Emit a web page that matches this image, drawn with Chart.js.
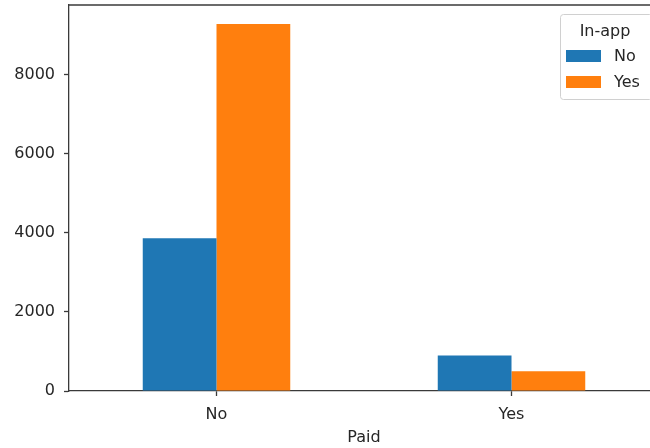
<!DOCTYPE html>
<html>
<head>
<meta charset="utf-8">
<script src="https://cdn.jsdelivr.net/npm/chart.js@4/dist/chart.umd.min.js"></script>
<style>
html, body { margin: 0; padding: 0; background: #fff; overflow: hidden; width: 650px; height: 448px; }
canvas { display: block; }
</style>
</head>
<body>
<canvas id="c" width="670" height="448"></canvas>
<script>
const categories = ['No', 'Yes'];
const seriesNames = ['No', 'Yes'];
const inAppNo = [3860, 895];
const inAppYes = [9280, 500];
const yTicks = [0, 2000, 4000, 6000, 8000];
const yMax = 9760;
const xTitle = 'Paid';
const legendTitle = 'In-app';
const colors = ['#1f77b4', '#ff7f0e'];

const FONT = 'DejaVu Sans';
const TEXT = '#262626';
const SPINE = '#3a3a3a';

const framePlugin = {
  id: 'frame',
  afterDraw(chart) {
    const ctx = chart.ctx, a = chart.chartArea;
    ctx.save();
    ctx.strokeStyle = SPINE;
    ctx.lineWidth = 1.3;
    ctx.beginPath();
    ctx.moveTo(a.left, a.top);
    ctx.lineTo(a.right, a.top);
    ctx.stroke();
    ctx.restore();
  }
};

const legendPlugin = {
  id: 'mplLegend',
  afterDraw(chart) {
    const ctx = chart.ctx;
    const x0 = 560, y0 = 14, w = 92, h = 85;
    ctx.save();
    ctx.fillStyle = 'rgba(255,255,255,0.85)';
    ctx.strokeStyle = '#d0d0d0';
    ctx.lineWidth = 1;
    ctx.beginPath();
    ctx.roundRect(x0 + 0.5, y0 + 0.5, w, h, 3);
    ctx.fill();
    ctx.stroke();
    ctx.font = '16px "' + FONT + '"';
    ctx.fillStyle = TEXT;
    ctx.textAlign = 'center';
    ctx.textBaseline = 'middle';
    ctx.fillText(legendTitle, 605, 32);
    ctx.textAlign = 'left';
    chart.data.datasets.forEach((ds, i) => {
      const cy = 56 + i * 26;
      ctx.fillStyle = ds.backgroundColor;
      ctx.fillRect(566, cy - 6, 35, 12);
      ctx.fillStyle = TEXT;
      ctx.fillText(ds.label, 614, cy + 1);
    });
    ctx.restore();
  }
};

new Chart(document.getElementById('c'), {
  type: 'bar',
  data: {
    labels: categories,
    datasets: [
      { label: seriesNames[0], data: inAppNo, backgroundColor: colors[0], borderWidth: 0 },
      { label: seriesNames[1], data: inAppYes, backgroundColor: colors[1], borderWidth: 0 }
    ]
  },
  options: {
    responsive: false,
    animation: false,
    layout: { padding: { top: 5, right: 11, left: 0, bottom: 0 } },
    datasets: { bar: { categoryPercentage: 0.5, barPercentage: 1.0 } },
    plugins: { legend: { display: false }, tooltip: { enabled: false } },
    scales: {
      x: {
        type: 'category',
        offset: true,
        grid: { display: true, drawOnChartArea: false, drawTicks: true, tickLength: 5, tickColor: SPINE, tickWidth: 1.3, offset: false },
        border: { display: true, color: SPINE, width: 1.3 },
        ticks: { color: TEXT, font: { family: FONT, size: 16 }, padding: 9 },
        title: { display: true, text: xTitle, color: TEXT, font: { family: FONT, size: 16 }, padding: { top: 0, bottom: 1 } },
        afterFit(s) { s.height = 57; s.paddingLeft = 0; s.paddingRight = 0; }
      },
      y: {
        min: 0,
        max: yMax,
        afterBuildTicks(s) { s.ticks = yTicks.map(v => ({ value: v })); },
        grid: { display: true, drawOnChartArea: false, drawTicks: true, tickLength: 5, tickColor: SPINE, tickWidth: 1.3 },
        border: { display: true, color: SPINE, width: 1.3 },
        ticks: { color: TEXT, font: { family: FONT, size: 16 }, padding: 9, callback: (v) => String(v) },
        afterFit(s) { s.width = 69; s.paddingTop = 0; s.paddingBottom = 0; }
      }
    }
  },
  plugins: [framePlugin, legendPlugin]
});
</script>
</body>
</html>
